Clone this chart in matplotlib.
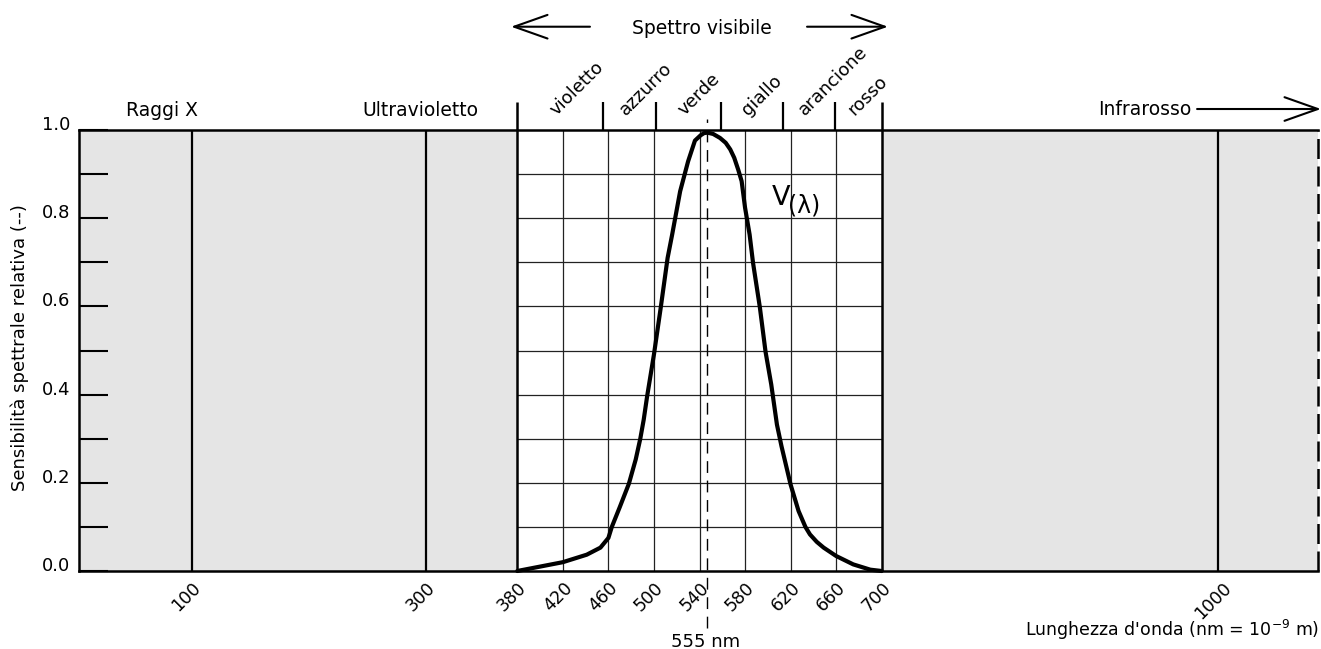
import numpy as np
import matplotlib
matplotlib.use("Agg")
import matplotlib.pyplot as plt
import matplotlib.transforms as mtransforms
from matplotlib.patches import FancyArrowPatch

# ---------------- data ----------------
wavelength = [380, 400, 420, 441, 453, 460, 463, 470, 478, 484,
              488, 491, 494, 500, 506, 512, 516, 523, 530, 536,
              541, 544, 547, 552, 558, 563, 567, 570.5, 574, 577,
              580, 584, 587, 593, 598, 603, 608, 612, 620, 627,
              633, 637, 643, 649, 660, 675, 690, 700]
v_lambda = [0.0, 0.01, 0.02, 0.037, 0.053, 0.075, 0.1, 0.145, 0.198, 0.253,
            0.3, 0.343, 0.396, 0.491, 0.598, 0.71, 0.763, 0.861, 0.929, 0.976,
            0.988, 0.993, 0.994, 0.991, 0.982, 0.971, 0.956, 0.937, 0.91, 0.884,
            0.824, 0.763, 0.699, 0.598, 0.497, 0.423, 0.332, 0.283, 0.196, 0.136,
            0.1, 0.083, 0.066, 0.053, 0.034, 0.015, 0.003, 0.0]

x_ticks = [100, 300, 380, 420, 460, 500, 540, 580, 620, 660, 700, 1000]
x_tick_labels = [str(t) for t in x_ticks]
grid_x = [420, 460, 500, 540, 580, 620, 660]
region_lines = [100, 300, 1000]
visible_range = [380, 700]
band_edges = [380, 455, 502, 559, 613, 659, 700]
band_names = ["violetto", "azzurro", "verde", "giallo", "arancione", "rosso"]
y_ticks = [0.0, 0.2, 0.4, 0.6, 0.8, 1.0]
y_tick_labels = ["0.0", "0.2", "0.4", "0.6", "0.8", "1.0"]
y_minor = [0.1, 0.2, 0.3, 0.4, 0.5, 0.6, 0.7, 0.8, 0.9]
x_max = 1090
peak_label = "555 nm"

# ---------------- scale (piecewise linear axis) ----------------
scale_wl = [0, 100, 300, 380, 700, 1000, 1090]
scale_pos = [0, 112.7, 347.3, 438.3, 802.7, 1138.7, 1239]


def _pw(x, xs, ys):
    x = np.asarray(x, dtype=float)
    y = np.interp(x, xs, ys)
    s0 = (ys[1] - ys[0]) / (xs[1] - xs[0])
    s1 = (ys[-1] - ys[-2]) / (xs[-1] - xs[-2])
    y = np.where(x < xs[0], ys[0] + (x - xs[0]) * s0, y)
    y = np.where(x > xs[-1], ys[-1] + (x - xs[-1]) * s1, y)
    return y


def fwd(x):
    return _pw(x, scale_wl, scale_pos)


def inv(p):
    return _pw(p, scale_pos, scale_wl)


FS = 13.5
plt.rcParams["font.family"] = ["DejaVu Sans"]

W, H = 1321, 649
fig = plt.figure(figsize=(W / 100, H / 100), dpi=100)
ax = fig.add_axes([79 / W, 1 - 571 / H, (1318 - 79) / W, 441 / H])
ax.set_xscale("function", functions=(fwd, inv))
ax.set_xlim(0, x_max)
ax.set_ylim(0, 1)

GRAY = "#e5e5e5"
ax.axvspan(0, visible_range[0], color=GRAY, lw=0, zorder=0)
ax.axvspan(visible_range[1], x_max, color=GRAY, lw=0, zorder=0)

# grid in visible region
ax.hlines(y_minor, visible_range[0], visible_range[1], color="#222222", lw=0.9, zorder=1)
ax.vlines(grid_x, 0, 1, color="#222222", lw=0.9, zorder=1)

# region lines
ax.vlines(region_lines, 0, 1, color="black", lw=1.6, zorder=3)
ext = 28 / 441
ax.vlines(visible_range, 0, 1 + ext, color="black", lw=1.8, zorder=3, clip_on=False)
ax.vlines(band_edges[1:-1], 1, 1 + ext, color="black", lw=1.6, zorder=3, clip_on=False)

# right dashed border
ax.vlines([x_max], 0, 1, color="black", lw=1.8, linestyles=[(0, (8, 3))], zorder=3, clip_on=False)

# spines
for s in ["top", "left", "bottom"]:
    ax.spines[s].set_linewidth(1.8)
    ax.spines[s].set_zorder(4)
ax.spines["right"].set_visible(False)

# curve
ax.plot(wavelength, v_lambda, color="black", lw=3.0, solid_joinstyle="round",
        solid_capstyle="round", zorder=5, clip_on=False)

# peak dashed line
peak_wl = wavelength[int(np.argmax(v_lambda))]
ax.vlines([peak_wl], -57 / 441, 1 + 11 / 441, color="black", lw=1.0,
          linestyles=[(0, (8.5, 5.5))], zorder=4, clip_on=False)

# y ticks
ax.set_yticks(y_ticks)
ax.set_yticklabels([])
ax.set_yticks(y_minor, minor=True)
ax.tick_params(axis="y", which="both", direction="in", length=21, width=1.5, labelleft=False)
ax.set_xticks([])
ax.xaxis.set_minor_locator(matplotlib.ticker.NullLocator())

ytr = mtransforms.offset_copy(ax.get_yaxis_transform(), fig=fig, x=-9, y=5, units="dots")
for v, lab in zip(y_ticks, y_tick_labels):
    ax.text(0, v, lab, transform=ytr, ha="right", va="center", fontsize=13)

xtr = mtransforms.offset_copy(ax.get_xaxis_transform(), fig=fig, x=-5, y=-8, units="dots")
for t, lab in zip(x_ticks, x_tick_labels):
    ax.text(t, 0, lab, transform=xtr, ha="center", va="top", rotation=45, fontsize=12.5)

# band labels
btr = mtransforms.offset_copy(ax.get_xaxis_transform(), fig=fig, x=-4, y=14, units="dots")
for a, b, name in zip(band_edges[:-1], band_edges[1:], band_names):
    ax.text((a + b) / 2, 1, name, transform=btr, rotation=45, rotation_mode="anchor",
            ha="left", va="baseline", fontsize=13)

# region texts (axes fraction coordinates)
ax.text(0.067, 1.032, "Raggi X", transform=ax.transAxes, ha="center", va="baseline", fontsize=FS)
ax.text(0.2752, 1.032, "Ultravioletto", transform=ax.transAxes, ha="center", va="baseline", fontsize=FS)
ax.text(0.898, 1.034, "Infrarosso", transform=ax.transAxes, ha="right", va="baseline", fontsize=FS)
ax.text(0.5028, 1.2177, "Spettro visibile", transform=ax.transAxes, ha="center", va="baseline", fontsize=FS)


def arrow(x0, x1, y):
    a = FancyArrowPatch((x0, y), (x1, y), transform=ax.transAxes,
                        arrowstyle=matplotlib.patches.ArrowStyle("->", head_length=24, head_width=8.5),
                        mutation_scale=1, lw=1.5, color="black", shrinkA=0, shrinkB=0, clip_on=False)
    ax.add_patch(a)


arrow(0.4124, 0.3487, 1.2342)
arrow(0.5876, 0.6529, 1.2342)
arrow(0.9024, 1.0024, 1.0476)

# V(lambda)
ax.text(0.559, 0.830, "V", transform=ax.transAxes, ha="left", va="baseline", fontsize=19.5)
ax.text(0.5725, 0.812, "(λ)", transform=ax.transAxes, ha="left", va="baseline", fontsize=17)

# 555 nm label
ptr = mtransforms.offset_copy(ax.get_xaxis_transform(), fig=fig, x=-2, y=-76, units="dots")
ax.text(peak_wl, 0, peak_label, transform=ptr, ha="center", va="baseline", fontsize=13)

# axis label
ax.text(1.0006, -0.1474, "Lunghezza d'onda (nm = 10$^{\\mathregular{-9}}$ m)", transform=ax.transAxes,
        ha="right", va="baseline", fontsize=12.5)
fig.text(20 / W, 1 - 348 / H, "Sensibilità spettrale relativa (--)", rotation=90,
         ha="center", va="center", fontsize=13)

fig.savefig("out.png", dpi=100)
